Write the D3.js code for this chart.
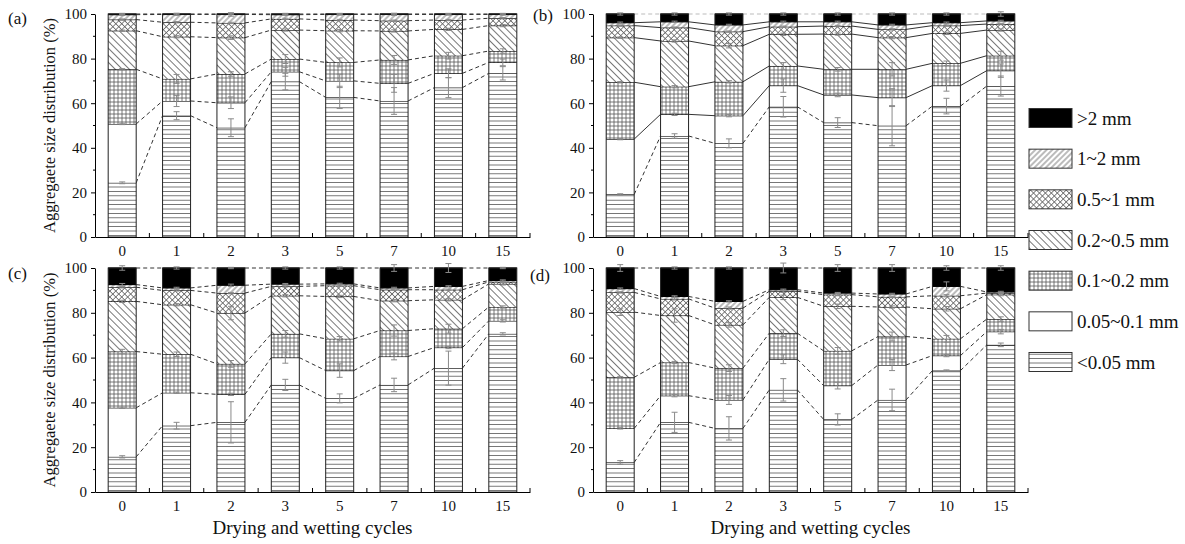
<!DOCTYPE html>
<html>
<head>
<meta charset="utf-8">
<script src="https://cdn.jsdelivr.net/npm/d3@7"></script>
<style>
  body { margin: 0; background: #fff; }
  svg text { font-family: "Liberation Serif", "Times New Roman", serif; fill: #111; }
</style>
</head>
<body>
<svg id="chart" width="1185" height="544"></svg>
<script>
// drying-wetting cycles (x categories)
const cycles = ["0", "1", "2", "3", "5", "7", "10", "15"];
// size fractions, bottom of the stack first
const fractions = ["<0.05 mm", "0.05~0.1 mm", "0.1~0.2 mm", "0.2~0.5 mm", "0.5~1 mm", "1~2 mm", ">2 mm"];
const yTicks = [0, 20, 40, 60, 80, 100];

// panel (a) : % of each fraction, rows follow `fractions`
const valuesA = [
    [24.3, 54.4, 49.0, 69.7, 62.6, 61.0, 67.0, 73.4],
    [26.4, 6.6, 11.2, 4.4, 7.4, 7.9, 6.4, 4.9],
    [24.5, 9.9, 12.9, 5.7, 8.3, 10.5, 7.9, 5.1],
    [17.3, 18.9, 16.3, 13.0, 14.2, 13.0, 11.8, 11.4],
    [5.0, 6.5, 6.6, 5.0, 4.8, 4.6, 4.2, 3.3],
    [2.2, 3.5, 3.8, 1.9, 2.5, 2.8, 2.5, 1.7],
    [0.3, 0.2, 0.2, 0.3, 0.2, 0.2, 0.2, 0.2]
];
const errA = [
    [0.4, 1.8, 4.0, 3.7, 5.0, 6.0, 4.5, 3.0],
    [0.3, 2.5, 2.6, 2.0, 3.0, 4.0, 2.0, 1.5],
    [0.3, 2.0, 1.0, 2.0, 2.0, 2.0, 1.5, 1.0],
    [0.3, 0.5, 0.8, 0.5, 0.5, 0.5, 0.5, 0.5],
    [0.3, 0.3, 0.3, 0.3, 0.3, 0.3, 0.3, 0.3],
    [0.3, 0.5, 0.8, 0.3, 0.3, 0.5, 0.3, 0.3],
    [0.3, 0.3, 0.3, 0.3, 0.3, 0.3, 0.3, 0.3]
];

// panel (b)
const valuesB = [
    [19.1, 45.3, 42.0, 58.4, 51.3, 49.9, 58.7, 67.7],
    [24.8, 9.7, 12.4, 9.5, 12.4, 12.6, 9.2, 6.9],
    [25.5, 12.4, 15.2, 8.8, 11.5, 12.7, 10.0, 6.7],
    [20.0, 20.5, 16.2, 14.2, 15.8, 14.2, 13.4, 11.5],
    [5.4, 6.0, 6.3, 3.4, 3.6, 3.7, 3.5, 2.7],
    [1.3, 2.6, 3.0, 2.2, 1.9, 2.0, 1.3, 1.4],
    [3.9, 3.5, 4.9, 3.5, 3.5, 4.9, 3.9, 3.1]
];
const errB = [
    [0.3, 1.0, 2.0, 4.6, 2.2, 9.0, 3.5, 4.5],
    [0.3, 0.5, 0.5, 3.0, 0.8, 4.0, 2.5, 3.0],
    [0.3, 0.5, 0.5, 1.5, 0.8, 3.0, 1.0, 2.0],
    [0.3, 0.5, 1.0, 0.5, 0.5, 0.5, 0.5, 0.5],
    [0.3, 0.3, 0.3, 0.3, 0.3, 0.3, 0.3, 0.3],
    [0.3, 0.3, 0.3, 0.3, 0.3, 0.3, 0.3, 0.3],
    [0.5, 0.5, 0.5, 0.5, 0.5, 0.5, 0.5, 1.0]
];

// panel (c)
const valuesC = [
    [15.7, 29.6, 31.1, 47.8, 41.8, 47.8, 55.3, 70.6],
    [21.9, 14.7, 12.5, 12.2, 12.4, 12.7, 9.2, 5.8],
    [25.1, 17.2, 13.6, 10.6, 14.2, 11.6, 8.4, 6.2],
    [22.4, 22.1, 22.7, 17.0, 18.9, 13.3, 12.9, 10.3],
    [6.3, 6.4, 8.9, 4.2, 4.8, 4.9, 4.5, 0.9],
    [1.2, 1.1, 3.5, 1.0, 0.8, 0.8, 1.5, 0.6],
    [7.4, 8.9, 7.7, 7.2, 7.1, 8.9, 8.2, 5.6]
];
const errC = [
    [0.5, 1.5, 9.2, 2.5, 2.0, 3.0, 7.6, 0.5],
    [0.3, 0.3, 0.5, 2.5, 3.0, 1.5, 0.5, 0.5],
    [1.0, 1.0, 1.5, 1.5, 1.0, 2.5, 2.0, 0.5],
    [0.5, 0.5, 3.0, 0.5, 0.5, 0.5, 0.5, 0.5],
    [0.3, 0.3, 0.3, 0.3, 0.3, 0.3, 0.3, 0.3],
    [0.5, 0.3, 0.5, 0.3, 0.3, 0.3, 0.3, 0.3],
    [1.0, 0.5, 0.3, 0.5, 0.5, 1.5, 2.0, 0.3]
];

// panel (d)
const valuesD = [
    [13.2, 31.1, 28.4, 45.6, 32.4, 41.1, 54.2, 65.7],
    [15.2, 11.9, 12.7, 13.7, 15.1, 15.6, 6.7, 5.9],
    [22.8, 14.8, 14.2, 11.6, 15.5, 12.7, 7.5, 5.6],
    [29.1, 21.0, 19.3, 16.0, 19.9, 13.2, 13.4, 10.9],
    [8.8, 7.4, 7.5, 2.7, 5.2, 4.5, 5.8, 0.7],
    [1.7, 1.1, 3.0, 0.7, 0.7, 1.3, 4.2, 0.5],
    [9.2, 12.7, 14.9, 9.7, 11.2, 11.6, 8.2, 10.7]
];
const errD = [
    [0.8, 4.5, 5.2, 5.0, 2.5, 4.8, 0.3, 0.8],
    [0.3, 0.5, 2.0, 2.0, 1.5, 2.5, 0.5, 1.0],
    [0.3, 0.5, 1.5, 1.5, 1.5, 2.0, 1.5, 1.0],
    [1.5, 3.0, 1.0, 1.0, 1.0, 0.5, 1.0, 0.5],
    [0.3, 0.5, 0.5, 0.5, 0.5, 0.3, 0.5, 0.3],
    [0.3, 0.3, 0.3, 0.3, 0.3, 0.3, 2.0, 0.3],
    [1.5, 0.5, 0.5, 2.2, 1.5, 1.5, 1.0, 1.0]
];

const svg = d3.select("#chart");
const defs = svg.append("defs");

// ---- hatch patterns ----
function makePattern(id, size, rotate, lines, stroke) {
    const p = defs.append("pattern")
        .attr("id", id)
        .attr("patternUnits", "userSpaceOnUse")
        .attr("width", size)
        .attr("height", size);
    if (rotate) p.attr("patternTransform", `rotate(${rotate})`);
    p.append("rect").attr("width", size).attr("height", size).attr("fill", "#fff");
    lines.forEach(l => {
        p.append("line")
            .attr("x1", l[0]).attr("y1", l[1]).attr("x2", l[2]).attr("y2", l[3])
            .attr("stroke", stroke || "#555").attr("stroke-width", 0.8);
    });
}
makePattern("p-hline", 4.4, 0, [[0, 2.2, 4.4, 2.2]]);
makePattern("p-white", 4, 0, []);
makePattern("p-grid", 4, 0, [[0, 2, 4, 2], [2, 0, 2, 4]]);
makePattern("p-back", 5, -45, [[2.5, 0, 2.5, 5]]);
makePattern("p-cross", 4.2, 45, [[0, 2.1, 4.2, 2.1], [2.1, 0, 2.1, 4.2]], "#666");
makePattern("p-fwd", 4, 45, [[2, 0, 2, 4]]);

const fills = ["url(#p-hline)", "url(#p-white)", "url(#p-grid)", "url(#p-back)",
               "url(#p-cross)", "url(#p-fwd)", "#000"];

const panels = [
    { tag: "(a)", left: 95, right: 530, top: 14, bottom: 237, vals: valuesA, errs: errA, solid: false, lx: 8, ly: 24, yTitle: true, xTitle: false },
    { tag: "(b)", left: 593, right: 1028, top: 14, bottom: 237, vals: valuesB, errs: errB, solid: true, lx: 533, ly: 21, yTitle: false, xTitle: false },
    { tag: "(c)", left: 95, right: 530, top: 268, bottom: 492, vals: valuesC, errs: errC, solid: false, lx: 8, ly: 279, yTitle: true, xTitle: true },
    { tag: "(d)", left: 593, right: 1028, top: 268, bottom: 492, vals: valuesD, errs: errD, solid: false, lx: 530, ly: 281, yTitle: false, xTitle: true }
];

panels.forEach(drawPanel);
drawLegend();

function drawPanel(pn) {
    const g = svg.append("g");

    const x = d3.scaleBand()
        .domain(cycles)
        .range([pn.left, pn.right])
        .paddingInner(0.485)
        .paddingOuter(0.2425);
    const y = d3.scaleLinear().domain([0, 100]).range([pn.bottom, pn.top]);
    const bw = x.bandwidth();

    // rows for d3.stack
    const rows = cycles.map((c, i) => {
        const r = { cycle: c };
        fractions.forEach((f, k) => { r[f] = pn.vals[k][i]; });
        return r;
    });
    const series = d3.stack().keys(fractions)(rows);

    // connecting lines between neighbouring bars
    series.forEach((s, k) => {
        for (let i = 0; i < cycles.length - 1; i++) {
            const dashed = !pn.solid || k === 0;
            const isTop = k === fractions.length - 1;
            g.append("line")
                .attr("x1", x(cycles[i]) + bw).attr("x2", x(cycles[i + 1]))
                .attr("y1", y(s[i][1])).attr("y2", y(s[i + 1][1]))
                .attr("stroke", pn.solid && isTop ? "#aaa" : "#333")
                .attr("stroke-width", pn.solid && isTop ? 0.8 : 1)
                .attr("stroke-dasharray", dashed || isTop ? "4,3" : null);
        }
    });

    // stacked segments
    series.forEach((s, k) => {
        g.selectAll(null)
            .data(s)
            .enter()
            .append("rect")
            .attr("x", d => x(d.data.cycle))
            .attr("y", d => y(d[1]))
            .attr("width", bw)
            .attr("height", d => Math.max(0, y(d[0]) - y(d[1])))
            .attr("fill", fills[k]);
        // segment top border
        g.selectAll(null)
            .data(s)
            .enter()
            .append("line")
            .attr("x1", d => x(d.data.cycle))
            .attr("x2", d => x(d.data.cycle) + bw)
            .attr("y1", d => y(d[1]))
            .attr("y2", d => y(d[1]))
            .attr("stroke", "#000")
            .attr("stroke-width", 1.2);
    });

    // bar outline
    g.selectAll(null)
        .data(cycles)
        .enter()
        .append("rect")
        .attr("x", d => x(d))
        .attr("y", y(100))
        .attr("width", bw)
        .attr("height", y(0) - y(100))
        .attr("fill", "none")
        .attr("stroke", "#222")
        .attr("stroke-width", 1);

    // error bars
    series.forEach((s, k) => {
        s.forEach((d, i) => {
            const e = pn.errs[k][i];
            if (!e) return;
            const cx = x(d.data.cycle) + bw / 2;
            const eg = g.append("g").attr("stroke", "#8a8a8a").attr("stroke-width", 1);
            eg.append("line").attr("x1", cx).attr("x2", cx).attr("y1", y(d[1] - e)).attr("y2", y(d[1] + e));
            eg.append("line").attr("x1", cx - 3).attr("x2", cx + 3).attr("y1", y(d[1] - e)).attr("y2", y(d[1] - e));
            eg.append("line").attr("x1", cx - 3).attr("x2", cx + 3).attr("y1", y(d[1] + e)).attr("y2", y(d[1] + e));
        });
    });

    // y axis
    const yAxis = g.append("g")
        .attr("transform", `translate(${pn.left},0)`)
        .call(d3.axisLeft(y).tickValues(yTicks).tickSize(4).tickPadding(4).tickSizeOuter(0));
    yAxis.selectAll("text").style("font-size", "15px");
    g.append("g")
        .attr("transform", `translate(${pn.left},0)`)
        .selectAll("line")
        .data(d3.range(10, 100, 20))
        .enter()
        .append("line")
        .attr("x1", -2).attr("x2", 0)
        .attr("y1", d => y(d)).attr("y2", d => y(d))
        .attr("stroke", "#000");

    // x axis
    const xAxis = g.append("g")
        .attr("transform", `translate(0,${pn.bottom})`)
        .call(d3.axisBottom(x).tickSize(0).tickPadding(8).tickSizeOuter(0));
    xAxis.selectAll("text").style("font-size", "15px");
    xAxis.selectAll(".domain, line").attr("stroke", "#000");
    yAxis.selectAll(".domain, line").attr("stroke", "#000");
    // minor x ticks at band borders, pointing inward
    g.selectAll(null)
        .data(d3.range(1, cycles.length + 1))
        .enter()
        .append("line")
        .attr("x1", d => pn.left + d * x.step())
        .attr("x2", d => pn.left + d * x.step())
        .attr("y1", pn.bottom)
        .attr("y2", pn.bottom - 4)
        .attr("stroke", "#000");

    // panel tag
    g.append("text")
        .attr("x", pn.lx).attr("y", pn.ly)
        .style("font-size", "17px")
        .text(pn.tag);

    if (pn.yTitle) {
        g.append("text")
            .attr("transform", `translate(55,${(pn.top + pn.bottom) / 2}) rotate(-90)`)
            .attr("text-anchor", "middle")
            .style("font-size", "16.5px")
            .text("Aggregaete size distribution (%)");
    }
    if (pn.xTitle) {
        g.append("text")
            .attr("x", (pn.left + pn.right) / 2)
            .attr("y", 534)
            .attr("text-anchor", "middle")
            .style("font-size", "19px")
            .text("Drying and wetting cycles");
    }
}

function drawLegend() {
    const order = fractions.map((f, k) => k).reverse();
    const ly = d3.scalePoint().domain(order).range([118, 362]);
    const lg = svg.append("g");
    order.forEach(k => {
        lg.append("rect")
            .attr("x", 1029).attr("y", ly(k) - 9.5)
            .attr("width", 43).attr("height", 19)
            .attr("fill", fills[k])
            .attr("stroke", "#333").attr("stroke-width", 1);
        lg.append("text")
            .attr("x", 1077).attr("y", ly(k))
            .attr("dy", "0.35em")
            .style("font-size", "19px")
            .text(fractions[k]);
    });
}
</script>
</body>
</html>
